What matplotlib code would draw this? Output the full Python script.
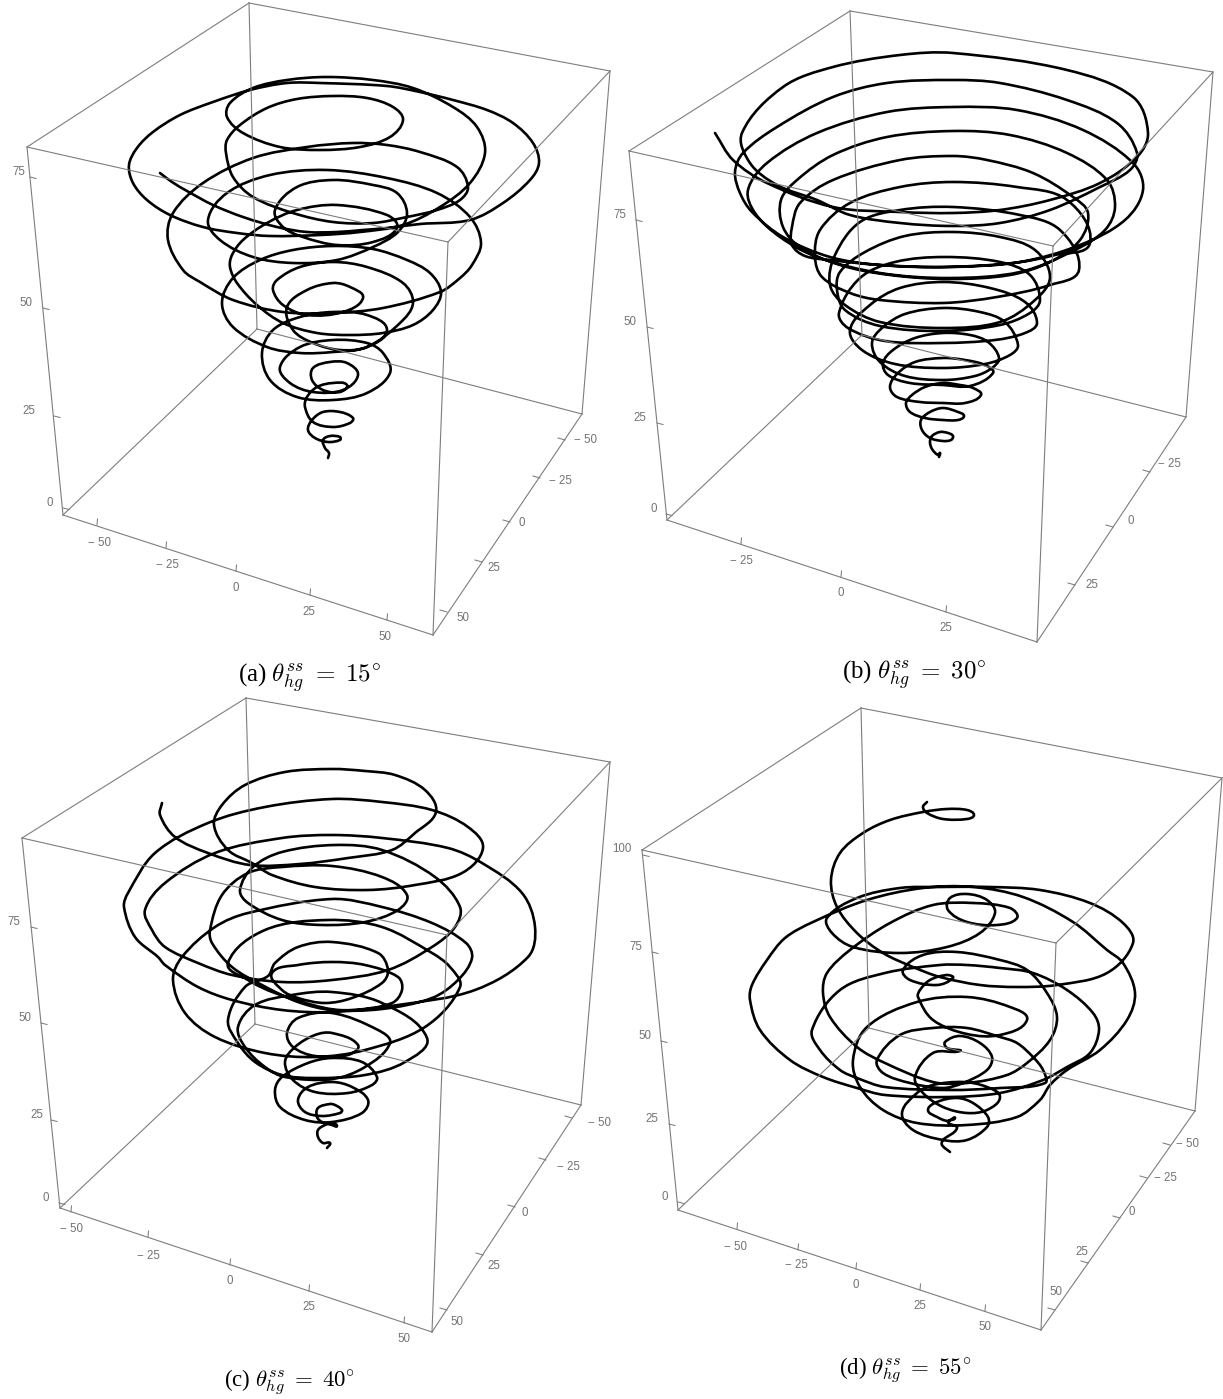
import numpy as np
import matplotlib
matplotlib.use('Agg')
import matplotlib.pyplot as plt
from matplotlib.path import Path
from matplotlib.patches import PathPatch

plt.rcParams['mathtext.fontset'] = 'cm'

# curves, image pixels, top end first
curve_a = [(160,173),(172,182),(187,191),(213,205),(243,217),(277,227),(307,232),(337,232),(363,230),(387,228),(420,224),(470,220),(503,203),(530,180),(539,163),(533,143),(513,123),(487,110),(453,100),(420,92),(387,86),(320,83),(287,83),(250,90),(213,102),(180,115),(153,132),(137,148),(129,165),(133,183),(147,200),(170,215),(203,227),(237,233),(270,236),(320,235),(360,232),(403,225),(440,207),(470,183),(485,153),(477,127),(453,107),(413,88),(373,80),(327,77),(287,80),(253,88),(230,103),(227,117),(243,133),(280,147),(320,150),(360,147),(390,137),(403,120),(393,107),(367,98),(333,96),(297,99),(267,108),(240,125),(227,140),(226,153),(233,177),(253,197),(293,213),(333,222),(373,223),(407,217),(437,210),(460,200),(468,187),(457,167),(420,152),(387,145),(353,143),(307,147),(253,158),(203,183),(173,213),(168,240),(183,270),(200,282),(233,300),(283,312),(333,313),(383,308),(440,292),(460,278),(472,265),(481,243),(470,217),(437,193),(387,178),(327,170),(270,175),(227,193),(208,220),(220,240),(253,257),(293,263),(337,260),(373,247),(398,232),(407,213),(397,193),(373,185),(333,180),(297,187),(275,210),(283,227),(303,237),(337,245),(373,242),(397,228),(387,215),(337,205),(297,210),(267,223),(243,240),(232,255),(230,267),(237,283),(257,305),(283,323),(317,333),(350,335),(383,333),(413,325),(433,310),(441,292),(430,273),(407,260),(373,249),(333,246),(293,250),(260,260),(233,278),(222,303),(233,327),(267,347),(300,353),(333,352),(367,347),(400,323),(413,303),(403,283),(367,267),(333,262),(300,267),(277,280),(273,290),(283,305),(307,315),(343,312),(363,298),(350,287),(333,283),(307,290),(287,307),(293,330),(313,343),(340,350),(367,347),(387,330),(367,315),(333,312),(300,317),(273,330),(262,353),(270,380),(297,397),(333,400),(367,393),(390,373),(383,353),(367,343),(333,340),(300,347),(280,367),(290,383),(313,392),(343,390),(358,375),(347,363),(330,362),(313,368),(312,380),(323,390),(340,392),(347,385),(333,383),(317,387),(307,397),(305,407),(313,422),(333,427),(350,423),(353,418),(340,412),(323,412),(312,420),(308,430),(315,438),(328,442),(340,440),(340,437),(330,436),(323,440),(325,448),(329,453),(328,458)]

curve_b = [(715,133),(733,160),(767,183),(833,207),(900,212),(953,213),(1000,210),(1050,200),(1100,183),(1137,157),(1148,133),(1133,97),(1067,70),(953,53),(900,55),(833,67),(783,87),(742,133),(750,163),(777,185),(817,200),(850,215),(900,223),(953,226),(1000,223),(1050,210),(1100,187),(1130,170),(1137,153),(1117,123),(1067,100),(1000,83),(953,80),(887,83),(833,97),(777,127),(743,153),(735,172),(740,193),(752,212),(783,237),(830,257),(880,265),(950,267),(1020,262),(1080,245),(1125,220),(1143,190),(1133,163),(1083,130),(1017,110),(953,107),(887,112),(817,133),(767,163),(748,190),(755,213),(780,237),(817,257),(880,273),(950,278),(1020,272),(1075,250),(1105,230),(1115,207),(1107,180),(1067,153),(1010,135),(953,131),(887,137),(833,155),(797,180),(781,200),(783,227),(800,247),(840,265),(890,275),(950,279),(1010,275),(1050,262),(1080,240),(1088,213),(1073,197),(1033,173),(987,160),(953,156),(900,160),(833,180),(800,203),(792,227),(792,245),(805,256),(830,260),(880,265),(943,267),(1013,263),(1055,255),(1090,243),(1067,200),(1017,187),(953,182),(900,187),(850,203),(820,230),(815,257),(822,277),(850,293),(880,300),(943,303),(997,297),(1050,285),(1079,270),(1060,230),(1020,215),(953,207),(900,210),(860,222),(835,255),(830,285),(845,305),(880,322),(943,328),(1000,322),(1035,300),(1050,277),(1035,250),(1000,237),(953,232),(905,236),(865,252),(840,272),(837,290),(845,310),(880,326),(943,331),(1000,325),(1030,313),(1040,300),(1030,275),(1000,262),(945,257),(895,262),(860,278),(839,313),(848,328),(885,341),(943,343),(995,340),(1025,333),(1037,323),(1025,302),(990,288),(943,282),(900,288),(870,305),(850,330),(862,350),(895,364),(943,368),(985,364),(1010,355),(1018,345),(1005,322),(980,312),(943,308),(905,314),(882,328),(872,343),(880,362),(905,376),(943,380),(975,376),(992,368),(999,358),(988,342),(970,335),(943,333),(915,338),(893,350),(883,363),(888,375),(910,383),(943,385),(970,386),(993,373),(985,365),(965,360),(943,358),(915,362),(897,374),(890,387),(897,397),(920,402),(943,403),(965,403),(981,395),(973,388),(960,385),(943,383),(925,387),(912,395),(906,403),(910,412),(925,418),(943,420),(958,420),(964,416),(958,412),(943,408),(930,412),(921,420),(922,430),(930,438),(943,441),(951,440),(953,436),(948,433),(940,432),(932,436),(930,442),(932,449),(938,455),(940,453),(939,457)]

curve_c = [(162,803),(160,815),(175,837),(208,853),(250,865),(300,864),(348,858),(392,850),(415,833),(436,812),(425,790),(395,775),(365,771),(332,769),(285,772),(245,785),(222,805),(214,825),(228,850),(252,863),(272,875),(315,887),(368,890),(415,885),(462,873),(483,848),(468,827),(432,810),(382,802),(332,799),(265,807),(208,823),(155,853),(128,893),(124,907),(135,937),(158,957),(165,965),(198,987),(232,1000),(282,1010),(332,1012),(398,1005),(475,990),(528,957),(535,927),(522,893),(482,863),(448,848),(382,838),(332,835),(282,838),(215,853),(165,883),(145,910),(152,930),(165,947),(198,963),(232,975),(282,982),(332,980),(388,970),(432,947),(455,927),(460,907),(435,877),(382,850),(335,845),(282,852),(253,867),(240,890),(248,903),(282,920),(322,925),(365,922),(398,910),(407,895),(382,877),(332,866),(282,867),(248,873),(222,895),(210,930),(212,943),(232,967),(262,985),(298,1002),(332,1010),(382,1009),(432,998),(458,980),(472,958),(466,943),(432,923),(382,907),(332,899),(248,913),(215,927),(182,957),(173,980),(185,1013),(215,1037),(265,1053),(315,1057),(365,1050),(425,1027),(460,987),(450,967),(432,953),(382,927),(328,920),(265,930),(228,963),(248,980),(275,993),(325,1008),(352,1010),(392,1003),(402,990),(398,977),(365,965),(332,962),(298,965),(272,973),(282,990),(298,998),(325,1003),(352,998),(382,983),(388,970),(378,953),(332,942),(298,947),(275,963),(268,976),(245,987),(228,1020),(238,1043),(255,1062),(282,1075),(315,1078),(365,1075),(405,1062),(427,1038),(382,1003),(332,992),(292,995),(255,1005),(238,1027),(245,1047),(265,1067),(285,1077),(332,1079),(365,1067),(390,1043),(378,1030),(332,1013),(298,1018),(287,1033),(293,1047),(315,1056),(348,1055),(358,1045),(332,1033),(315,1035),(295,1047),(285,1062),(293,1080),(315,1092),(348,1093),(372,1085),(377,1077),(362,1062),(332,1058),(308,1063),(282,1077),(275,1090),(280,1107),(305,1120),(332,1122),(362,1113),(368,1100),(352,1087),(332,1082),(308,1087),(298,1100),(305,1112),(322,1116),(340,1113),(342,1110),(335,1105),(330,1104),(318,1108),(317,1117),(322,1122),(332,1125),(337,1126),(332,1123),(325,1125),(318,1130),(318,1137),(323,1143),(330,1143),(327,1148)]

curve_d = [(927,802),(923,807),(927,813),(943,819),(967,819),(974,815),(967,810),(947,809),(923,812),(890,820),(863,833),(840,853),(831,880),(837,907),(857,933),(883,953),(913,967),(940,977),(980,985),(1017,987),(1057,985),(1107,973),(1133,943),(1123,923),(1090,903),(1040,890),(990,887),(940,887),(900,888),(857,898),(827,918),(832,933),(853,947),(900,953),(947,947),(980,933),(995,913),(987,900),(967,894),(950,898),(948,910),(967,922),(997,925),(1017,918),(1010,908),(973,903),(933,905),(890,923),(850,950),(827,973),(823,993),(830,1017),(857,1047),(885,1063),(933,1082),(967,1083),(1007,1075),(1027,1063),(1050,1040),(1057,1017),(1047,993),(1027,970),(1000,960),(957,952),(923,955),(903,970),(910,980),(937,985),(953,978),(947,975),(930,980),(920,990),(918,997),(933,1020),(967,1034),(1000,1035),(1027,1020),(1010,1007),(967,997),(917,1002),(867,1027),(853,1060),(860,1087),(883,1110),(917,1123),(967,1125),(1017,1117),(1040,1100),(1050,1085),(1067,1070),(1100,1050),(1127,1020),(1135,993),(1123,963),(1107,950),(1073,922),(1023,897),(973,887),(923,888),(867,900),(813,922),(785,938),(767,960),(752,985),(750,1000),(760,1030),(790,1060),(823,1077),(857,1088),(885,1095),(950,1097),(1000,1093),(1043,1080),(1067,1067),(1090,1053),(1099,1030),(1093,1013),(1067,990),(1033,973),(1000,968),(967,965),(940,965),(885,973),(840,990),(812,1030),(820,1050),(840,1070),(857,1078),(885,1087),(950,1090),(1000,1088),(1045,1083),(1043,1070),(1033,1057),(1017,1043),(1000,1037),(967,1028),(933,1028),(900,1035),(877,1060),(883,1073),(910,1083),(943,1088),(963,1083),(987,1070),(992,1057),(980,1043),(960,1036),(945,1042),(947,1048),(960,1051),(933,1053),(915,1077),(923,1093),(943,1107),(967,1113),(987,1110),(1000,1097),(987,1087),(963,1082),(933,1085),(917,1093),(902,1113),(913,1130),(943,1140),(967,1140),(987,1127),(988,1117),(973,1103),(957,1098),(937,1102),(928,1110),(937,1117),(948,1121),(955,1118),(948,1122),(957,1128),(943,1140),(942,1145),(950,1152)]

# box corners: top-left, top-back, top-right, top-front, then the same four at the bottom
box_a = [(27,147),(249,3),(610,71),(448,242),(63,515),(257,329),(582,414),(433,635)]
box_b = [(629,151),(850,11),(1213,72),(1053,246),(667,520),(862,335),(1186,417),(1037,642)]
box_c = [(22,838),(246,698),(610,762),(447,935),(60,1208),(255,1024),(581,1105),(432,1332)]
box_d = [(642,850),(861,708),(1222,778),(1056,943),(678,1210),(869,1028),(1195,1111),(1041,1330)]

# tick marks on the edges
xticks_a = [(97,525),(166,548),(236,571),(310,595),(387,620)]
yticks_a = [(447,612),(482,562),(510,522),(540,478),(565,440)]
zticks_a = [(63,508),(54,416),(43,308),(30,177)]
xticks_b = [(741,544),(841,577),(946,612)]
yticks_b = [(1075,585),(1113,527),(1150,472)]
zticks_b = [(666,514),(657,423),(647,327),(636,220)]
xticks_c = [(71,1212),(148,1237),(230,1265),(309,1291),(404,1323)]
yticks_c = [(447,1310),(483,1255),(515,1207),(546,1160),(572,1118)]
zticks_c = [(59,1203),(51,1120),(41,1023),(31,927)]
xticks_d = [(737,1229),(798,1250),(856,1269),(920,1290),(985,1311)]
yticks_d = [(1055,1310),(1088,1263),(1120,1218),(1147,1178),(1170,1145)]
zticks_d = [(678,1202),(669,1124),(661,1041),(652,952),(643,855)]

# tick labels and where they sit
xlabels_ab = ['\u2212 50', '\u2212 25', '0', '25', '50']
ylabels_ab = ['50', '25', '0', '\u2212 25', '\u2212 50']
zlabels = ['0', '25', '50', '75']
xlabelpos_a = [(99,543),(167,565),(236,588),(309,612),(385,637)]
ylabelpos_a = [(463,618),(494,568),(522,523),(560,481),(585,440)]
zlabelpos_a = [(50,503),(29,411),(26,303),(19,172)]
xlabels_b = ['\u2212 25', '0', '25']
ylabels_b = ['25', '0', '\u2212 25']
xlabelpos_b = [(741,561),(841,593),(946,628)]
ylabelpos_b = [(1092,585),(1131,521),(1169,464)]
zlabelpos_b = [(654,509),(640,418),(630,322),(620,215)]
xlabelpos_c = [(71,1229),(148,1256),(230,1281),(309,1307),(404,1339)]
ylabelpos_c = [(457,1322),(494,1266),(525,1213),(568,1167),(599,1123)]
zlabelpos_c = [(46,1198),(37,1115),(25,1018),(14,922)]
xlabelpos_d = [(735,1247),(796,1265),(856,1285),(920,1306),(985,1327)]
ylabelpos_d = [(1056,1292),(1082,1252),(1132,1212),(1165,1178),(1187,1144)]
zlabels_d = ['0', '25', '50', '75', '100']
zlabelpos_d = [(665,1197),(652,1119),(645,1036),(636,947),(622,849)]

captions = ['(a) $\\theta_{hg}^{ss}\\;=\\;15^{\\circ}$', '(b) $\\theta_{hg}^{ss}\\;=\\;30^{\\circ}$',
            '(c) $\\theta_{hg}^{ss}\\;=\\;40^{\\circ}$', '(d) $\\theta_{hg}^{ss}\\;=\\;55^{\\circ}$']
caption_pos = [(309,678),(914,675),(290,1383),(905,1371)]
caption_size = [18, 18, 16.5, 16.5]

GREY = '#7d7d7d'
TXT = '#737373'


def smooth_path(points):
    # bezier through the read points, handles follow segment length so uneven spacing stays round
    p = np.array(points, dtype=float)
    prev = np.vstack([p[0], p[:-1]])
    nxt = np.vstack([p[1:], p[-1]])
    d = nxt - prev
    n = np.hypot(d[:, 0], d[:, 1])
    n[n == 0] = 1
    unit = d / n[:, None]
    verts = [p[0]]
    codes = [Path.MOVETO]
    for i in range(len(p) - 1):
        seg = np.hypot(*(p[i + 1] - p[i])) / 3
        verts += [p[i] + unit[i] * seg, p[i + 1] - unit[i + 1] * seg, p[i + 1]]
        codes += [Path.CURVE4] * 3
    return Path(verts, codes)


def draw_panel(ax, box, curve, xt, yt, zt):
    edges = [(0,1),(1,2),(2,3),(3,0),(0,4),(1,5),(2,6),(3,7),(4,5),(5,6),(6,7),(7,4)]
    for i, j in edges:
        ax.plot([box[i][0], box[j][0]], [box[i][1], box[j][1]], color=GREY, lw=0.8)
    for x, y in xt:
        ax.plot([x, x + 0.5], [y, y - 6], color=GREY, lw=0.75)
    for x, y in yt:
        ax.plot([x, x - 7], [y, y - 2], color=GREY, lw=0.75)
    for x, y in zt:
        ax.plot([x, x + 6], [y, y + 1.5], color=GREY, lw=0.75)
    ax.add_patch(PathPatch(smooth_path(curve), fc='none', ec='black', lw=1.9,
                           capstyle='round', joinstyle='round'))


def put_labels(ax, labels, pos):
    for s, (x, y) in zip(labels, pos):
        ax.text(x, y, s, color=TXT, fontsize=8.3, family='Liberation Sans', ha='center', va='center')


fig = plt.figure(figsize=(12.23, 13.99), dpi=100)
ax = fig.add_axes([0, 0, 1, 1])
ax.set_xlim(0, 1223)
ax.set_ylim(1399, 0)
ax.axis('off')

draw_panel(ax, box_a, curve_a, xticks_a, yticks_a, zticks_a)
draw_panel(ax, box_b, curve_b, xticks_b, yticks_b, zticks_b)
draw_panel(ax, box_c, curve_c, xticks_c, yticks_c, zticks_c)
draw_panel(ax, box_d, curve_d, xticks_d, yticks_d, zticks_d)

put_labels(ax, xlabels_ab, xlabelpos_a)
put_labels(ax, ylabels_ab, ylabelpos_a)
put_labels(ax, zlabels, zlabelpos_a)
put_labels(ax, xlabels_b, xlabelpos_b)
put_labels(ax, ylabels_b, ylabelpos_b)
put_labels(ax, zlabels, zlabelpos_b)
put_labels(ax, xlabels_ab, xlabelpos_c)
put_labels(ax, ylabels_ab, ylabelpos_c)
put_labels(ax, zlabels, zlabelpos_c)
put_labels(ax, xlabels_ab, xlabelpos_d)
put_labels(ax, ylabels_ab, ylabelpos_d)
put_labels(ax, zlabels_d, zlabelpos_d)

for s, (x, y), fs in zip(captions, caption_pos, caption_size):
    ax.text(x, y, s, fontsize=fs, family='Liberation Serif', ha='center', va='center', color='black')

fig.savefig('out.png', dpi=100)
